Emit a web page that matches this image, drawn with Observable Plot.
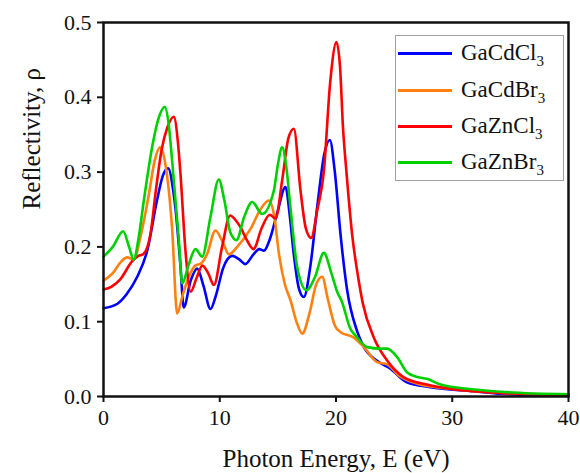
<!DOCTYPE html>
<html><head><meta charset="utf-8">
<script src="https://cdn.jsdelivr.net/npm/d3@7"></script>
<script src="https://cdn.jsdelivr.net/npm/@observablehq/plot@0.6"></script>
<style>
body{margin:0;background:#fff;font-size:22px;font-family:'Liberation Serif';}
#wrap{position:relative;width:580px;height:473px;}
.legend{position:absolute;left:395px;top:35px;width:169px;height:146px;border:1px solid #a0a0a0;box-sizing:border-box;background:#fff;}
.row{position:absolute;left:2px;height:0;}
.sw{position:absolute;left:0;width:54px;height:3px;top:-1.5px;}
.lab{position:absolute;left:63px;top:-14px;font-size:23px;line-height:28px;white-space:nowrap;color:#111;}
.lab sub{font-size:15px;vertical-align:-6px;line-height:0;}
</style></head><body><div id="wrap"></div>
<script>
// ---- data ----
const seriesNames = ["GaCdCl3", "GaCdBr3", "GaZnCl3", "GaZnBr3"];
const seriesColors = ["#0000FF", "#FF8010", "#FF0000", "#00D000"];
const xTicks = [0, 10, 20, 30, 40];
const yTicks = [0, 0.1, 0.2, 0.3, 0.4, 0.5];
const xLabel = "Photon Energy, E (eV)";
const yLabel = "Reflectivity, ρ";

const gaCdCl3E = [0,1.2,2.0,2.9,3.76,4.6,5.1,5.56,6.0,6.2,6.62,6.9,7.5,8.06,8.6,9.2,9.63,10.3,11.07,11.7,12.2,12.9,13.4,13.8,14.3,14.94,15.66,16.0,16.37,16.8,17.23,17.8,18.38,19.0,19.47,19.9,20.4,20.96,21.8,22.4,23.5,24.7,26.1,28.1,31.9,34.2,40];
const gaCdCl3R = [0.118,0.124,0.137,0.16,0.195,0.262,0.295,0.305,0.275,0.25,0.175,0.119,0.155,0.171,0.148,0.117,0.133,0.172,0.188,0.183,0.177,0.19,0.197,0.195,0.21,0.245,0.28,0.245,0.19,0.145,0.133,0.175,0.253,0.325,0.343,0.3,0.215,0.142,0.088,0.066,0.048,0.037,0.019,0.0125,0.007,0.0036,0.0015];

const gaCdBr3E = [0,0.8,1.5,2.04,2.6,3.2,3.9,4.4,4.85,5.33,5.9,6.34,6.8,7.34,7.9,8.4,8.9,9.63,10.3,10.8,11.5,12.65,13.5,14.22,14.7,15.1,15.6,16.1,16.6,17.1,17.7,18.3,18.81,19.3,19.9,20.4,21.5,22.4,23.54,24.4,25.4,27.0,29.85,34.7,40];
const gaCdBr3R = [0.155,0.165,0.18,0.186,0.183,0.215,0.27,0.315,0.333,0.31,0.225,0.111,0.135,0.16,0.175,0.178,0.19,0.222,0.205,0.19,0.2,0.224,0.25,0.262,0.24,0.19,0.15,0.128,0.1,0.084,0.11,0.15,0.16,0.13,0.095,0.086,0.079,0.066,0.046,0.043,0.028,0.017,0.0103,0.0045,0.0025];

const gaZnCl3E = [0,0.7,1.46,2.47,3.0,3.4,4.04,4.5,5.0,5.5,6.05,6.4,6.62,7.05,7.5,8.0,8.5,9.0,9.5,10.2,10.9,11.4,11.8,12.3,12.9,13.6,14.3,14.8,15.37,15.9,16.37,16.95,17.4,17.86,18.4,18.95,19.5,20.04,20.35,20.6,20.9,21.4,21.9,22.3,23.25,24.4,25.8,27.8,30.4,34.7,40];
const gaZnCl3R = [0.143,0.147,0.157,0.181,0.188,0.19,0.217,0.275,0.33,0.36,0.374,0.34,0.298,0.195,0.14,0.158,0.175,0.165,0.149,0.2,0.242,0.235,0.226,0.21,0.197,0.225,0.243,0.238,0.289,0.345,0.358,0.275,0.225,0.212,0.25,0.3,0.42,0.474,0.44,0.36,0.3,0.215,0.16,0.125,0.079,0.048,0.026,0.016,0.009,0.0045,0.002];

const gaZnBr3E = [0,0.8,1.69,2.2,2.6,3.0,3.47,4.2,4.8,5.27,5.6,5.9,6.48,6.77,7.3,7.91,8.49,9.2,9.92,10.4,10.9,11.44,12.1,12.79,13.65,14.65,15.0,15.37,15.7,16.08,16.66,17.46,18.2,18.95,19.6,20.1,20.5,21.25,21.68,22.7,23.8,24.4,25.26,26.1,27.0,27.8,29.0,31.3,34.7,40];
const gaZnBr3R = [0.187,0.2,0.221,0.2,0.183,0.21,0.262,0.335,0.375,0.387,0.365,0.316,0.209,0.151,0.175,0.197,0.187,0.24,0.29,0.262,0.22,0.209,0.24,0.26,0.244,0.275,0.31,0.333,0.31,0.253,0.173,0.142,0.16,0.192,0.165,0.14,0.127,0.09,0.0815,0.066,0.064,0.064,0.0526,0.0325,0.026,0.0236,0.016,0.0103,0.0058,0.003];

const energies = [gaCdCl3E, gaCdBr3E, gaZnCl3E, gaZnBr3E];
const reflect = [gaCdCl3R, gaCdBr3R, gaZnCl3R, gaZnBr3R];

const series = seriesNames.map((name, i) => ({
  name, color: seriesColors[i],
  data: energies[i].map((e, j) => ({e, r: reflect[i][j]}))
}));

const plot = Plot.plot({
  width: 580, height: 473,
  marginLeft: 103, marginRight: 12, marginTop: 22, marginBottom: 77,
  style: {fontFamily: "Liberation Serif", background: "white", color: "#111"},
  x: {domain: [0, 40]},
  y: {domain: [0, 0.5]},
  marks: [
    ...series.map(s => Plot.line(s.data, {x: "e", y: "r", stroke: s.color, strokeWidth: 2.6, curve: "monotone-x"})),
    Plot.frame({stroke: "#111", strokeWidth: 2.5}),
    Plot.axisX({ticks: xTicks, tickSize: 6, tickPadding: 7, fontSize: 22, label: null, strokeWidth: 2, stroke: "#111", tickFormat: d3.format("d")}),
    Plot.axisY({ticks: yTicks, tickSize: 6, tickPadding: 6, fontSize: 22, label: null, strokeWidth: 2, stroke: "#111", tickFormat: d3.format(".1f")}),
    Plot.text([xLabel], {frameAnchor: "bottom", dy: 70, fontSize: 25, text: d => d, fill: "#111"}),
    Plot.text([yLabel], {frameAnchor: "left", dx: -72, rotate: -90, fontSize: 25, text: d => d, fill: "#111"})
  ]
});

d3.select(plot).attr("font-family", "Liberation Serif")
  .selectAll("text").attr("font-family", "Liberation Serif").style("font-family", "'Liberation Serif'");

const wrap = document.getElementById("wrap");
wrap.appendChild(plot);

const legend = document.createElement("div");
legend.className = "legend";
const rowY = [17, 54, 90, 126];
series.forEach((s, i) => {
  const row = document.createElement("div");
  row.className = "row";
  row.style.top = rowY[i] + "px";
  const sw = document.createElement("div");
  sw.className = "sw";
  sw.style.background = s.color;
  const lab = document.createElement("div");
  lab.className = "lab";
  lab.style.fontFamily = "'Liberation Serif'";
  lab.innerHTML = s.name.slice(0, -1) + "<sub>" + s.name.slice(-1) + "</sub>";
  row.appendChild(sw); row.appendChild(lab);
  legend.appendChild(row);
});
wrap.appendChild(legend);
</script>
</body></html>
